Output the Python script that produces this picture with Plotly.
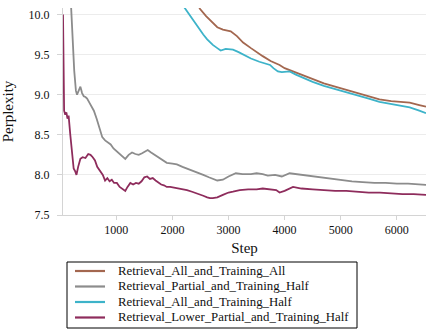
import plotly.graph_objects as go

# Retrieval_All_and_Training_All
all_all_x = [2400, 2490, 2600, 2720, 2800, 2900, 3040, 3150, 3260, 3400, 3500, 3610, 3750, 3910, 4000, 4150, 4300, 4500, 4700, 4900, 5090, 5300, 5500, 5690, 5900, 6050, 6230, 6400, 6520]
all_all_y = [10.2, 10.07, 9.98, 9.9, 9.84, 9.81, 9.79, 9.73, 9.65, 9.58, 9.53, 9.48, 9.42, 9.37, 9.33, 9.29, 9.25, 9.19, 9.14, 9.1, 9.06, 9.02, 8.98, 8.94, 8.92, 8.91, 8.9, 8.87, 8.85]

# Retrieval_Partial_and_Training_Half
part_half_x = [180, 200, 220, 250, 280, 300, 330, 360, 390, 420, 450, 480, 520, 560, 600, 650, 700, 750, 800, 850, 900, 950, 1000, 1050, 1100, 1160, 1220, 1280, 1340, 1400, 1460, 1520, 1560, 1620, 1690, 1760, 1830, 1900, 2000, 2080, 2180, 2260, 2350, 2450, 2550, 2650, 2720, 2800, 2900, 3000, 3130, 3250, 3400, 3500, 3610, 3700, 3830, 3950, 4090, 4200, 4400, 4600, 4800, 5000, 5200, 5390, 5600, 5800, 6000, 6200, 6400, 6520]
part_half_y = [10.3, 10.0, 9.7, 9.3, 9.05, 9.0, 9.05, 9.1, 9.02, 8.98, 8.97, 8.95, 8.9, 8.85, 8.8, 8.7, 8.58, 8.47, 8.43, 8.4, 8.38, 8.33, 8.3, 8.27, 8.24, 8.2, 8.25, 8.28, 8.26, 8.25, 8.27, 8.3, 8.31, 8.28, 8.25, 8.22, 8.18, 8.15, 8.14, 8.13, 8.1, 8.08, 8.05, 8.03, 8.0, 7.97, 7.95, 7.93, 7.94, 7.98, 8.02, 8.01, 8.01, 8.02, 8.01, 7.99, 8.0, 7.98, 8.02, 8.01, 7.99, 7.97, 7.96, 7.94, 7.92, 7.91, 7.9, 7.9, 7.89, 7.89, 7.88, 7.875]

# Retrieval_All_and_Training_Half
all_half_x = [2180, 2260, 2350, 2450, 2550, 2620, 2720, 2800, 2860, 2950, 3080, 3180, 3260, 3400, 3550, 3740, 3800, 3880, 3950, 4090, 4200, 4350, 4500, 4700, 4900, 5090, 5300, 5500, 5690, 5900, 6050, 6230, 6400, 6520]
all_half_y = [10.12, 10.04, 9.94, 9.84, 9.75, 9.69, 9.62, 9.58, 9.55, 9.57, 9.56, 9.53, 9.5, 9.45, 9.41, 9.37, 9.33, 9.29, 9.28, 9.29, 9.25, 9.2, 9.16, 9.11, 9.07, 9.04, 8.99, 8.95, 8.91, 8.88, 8.86, 8.84, 8.8, 8.77]

# Retrieval_Lower_Partial_and_Training_Half
lower_half_x = [50, 60, 70, 90, 110, 130, 150, 180, 210, 240, 270, 290, 320, 360, 400, 450, 500, 540, 580, 620, 660, 710, 760, 800, 840, 880, 920, 960, 1010, 1060, 1110, 1160, 1200, 1250, 1300, 1350, 1400, 1450, 1500, 1550, 1600, 1650, 1700, 1750, 1800, 1850, 1900, 1960, 2050, 2150, 2260, 2350, 2450, 2550, 2620, 2670, 2720, 2800, 2900, 3000, 3080, 3200, 3350, 3500, 3610, 3750, 3850, 3910, 4000, 4150, 4300, 4500, 4700, 4900, 5100, 5300, 5500, 5700, 5900, 6100, 6300, 6520]
lower_half_y = [10.0, 9.4, 8.8, 8.75, 8.78, 8.7, 8.74, 8.5, 8.25, 8.08, 8.04, 8.0, 8.1, 8.2, 8.22, 8.21, 8.26, 8.25, 8.22, 8.18, 8.1, 8.05, 8.0, 7.93, 7.96, 7.92, 7.94, 7.9, 7.9, 7.85, 7.82, 7.8, 7.85, 7.9, 7.88, 7.9, 7.89, 7.92, 7.97, 7.98, 7.95, 7.96, 7.93, 7.9, 7.88, 7.87, 7.85, 7.85, 7.84, 7.82, 7.81, 7.79, 7.76, 7.74, 7.72, 7.71, 7.71, 7.72, 7.75, 7.78, 7.79, 7.81, 7.82, 7.82, 7.83, 7.82, 7.81, 7.78, 7.8, 7.85, 7.83, 7.82, 7.81, 7.8, 7.8, 7.79, 7.78, 7.78, 7.77, 7.76, 7.76, 7.75]

y_ticks = [7.5, 8.0, 8.5, 9.0, 9.5, 10.0]
y_tick_text = ["7.5", "8.0", "8.5", "9.0", "9.5", "10.0"]
x_ticks = [1000, 2000, 3000, 4000, 5000, 6000]

series_names = ["Retrieval_All_and_Training_All", "Retrieval_Partial_and_Training_Half",
                "Retrieval_All_and_Training_Half", "Retrieval_Lower_Partial_and_Training_Half"]
series_x = [all_all_x, part_half_x, all_half_x, lower_half_x]
series_y = [all_all_y, part_half_y, all_half_y, lower_half_y]
series_colors = ["#a3674f", "#8c8c8c", "#3db3c9", "#8e2c5c"]

FONT = "Liberation Serif"
W, H = 426, 329
ML, MR, MT, MB = 63, 0, 8, 114
PW, PH = W - ML - MR, H - MT - MB


def px_x(p):
    return (p - ML) / PW


def px_y(p):
    return (H - MB - p) / PH


fig = go.Figure()
for name, xs, ys, col in zip(series_names, series_x, series_y, series_colors):
    fig.add_trace(go.Scatter(x=xs, y=ys, mode="lines", name=name,
                             line=dict(color=col, width=1.8)))

# Legend drawn as a boxed block below the axes (compact row spacing as in the reference)
shapes = [dict(type="rect", xref="paper", yref="paper",
               x0=px_x(67), x1=px_x(357), y0=px_y(262), y1=px_y(328),
               line=dict(color="#000000", width=1), fillcolor="white", layer="above")]
annotations = []
row_y = [271, 286.5, 302, 317.5]
for name, col, ry in zip(series_names, series_colors, row_y):
    shapes.append(dict(type="line", xref="paper", yref="paper",
                       x0=px_x(75), x1=px_x(105), y0=px_y(ry), y1=px_y(ry),
                       line=dict(color=col, width=2.2), layer="above"))
    annotations.append(dict(text=name, xref="paper", yref="paper",
                            x=px_x(116), y=px_y(ry - 0.5), xanchor="left", yanchor="middle",
                            showarrow=False, font=dict(family=FONT, size=12.8, color="#111111")))

fig.update_layout(
    width=W, height=H,
    margin=dict(l=ML, r=MR, t=MT, b=MB, autoexpand=False),
    paper_bgcolor="white", plot_bgcolor="white",
    font=dict(family=FONT, color="#111111", size=12),
    showlegend=False,
    shapes=shapes, annotations=annotations,
)
fig.update_xaxes(range=[50, 6520], tickvals=x_ticks, showgrid=False,
                 showline=True, linecolor="#d4d4d4", linewidth=1,
                 ticks="outside", ticklen=4, tickcolor="#d4d4d4",
                 tickfont=dict(family=FONT, size=12),
                 title=dict(text="Step", font=dict(family=FONT, size=15), standoff=6),
                 zeroline=False)
fig.update_yaxes(range=[7.5, 10.08], tickvals=y_ticks, ticktext=y_tick_text,
                 showgrid=True, gridcolor="#ececec", gridwidth=1,
                 showline=True, linecolor="#d4d4d4", linewidth=1,
                 ticks="outside", ticklen=5, tickcolor="#d4d4d4",
                 ticklabelstandoff=5,
                 tickfont=dict(family=FONT, size=12),
                 title=dict(text="Perplexity", font=dict(family=FONT, size=15)),
                 zeroline=False)

fig.write_html("out.html", config={"displayModeBar": False},
               post_script="document.body.style.margin='0';")
